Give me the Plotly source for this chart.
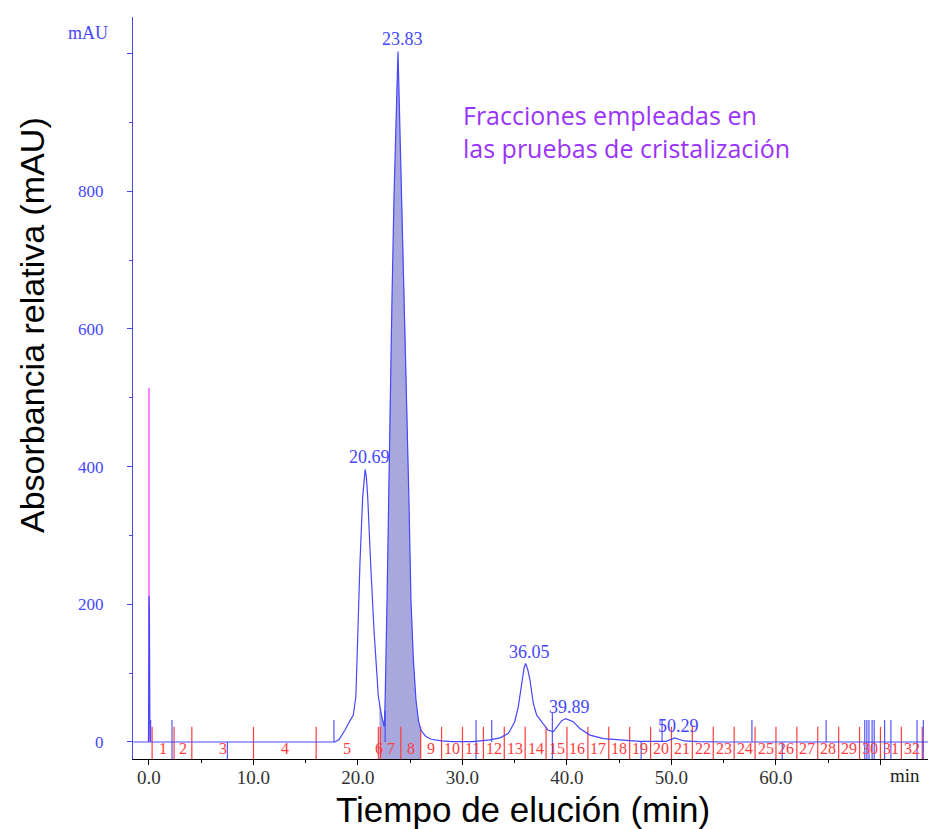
import plotly.graph_objects as go

# ---------------- data ----------------
# chromatogram trace (min, mAU)
TIME = [-1.5, -0.05, -0.01, 0.0, 0.04, 0.08, 0.12, 0.3, 17.6, 17.8, 18.2, 18.75, 19.2, 19.55,
        19.8, 19.97, 20.19, 20.45, 20.6, 20.69, 20.8, 20.93, 21.21, 21.53, 21.95, 22.05,
        22.27, 22.52, 22.6, 22.78, 22.92, 23.06, 23.25, 23.44, 23.54, 23.68, 23.83, 23.95,
        24.09, 24.21, 24.45, 24.69, 24.88, 25.07, 25.3, 25.55, 25.8, 26.03, 26.5, 27.0, 28.0,
        29.0, 30.0, 31.0, 32.6, 33.6, 34.4, 35.0, 35.34, 35.66, 35.9, 36.05, 36.25, 36.46,
        36.78, 37.1, 37.73, 38.2, 38.7, 39.17, 39.5, 39.89, 40.3, 40.6, 41.2, 42.2, 43.5,
        45.1, 47.0, 49.5, 49.9, 50.29, 50.7, 51.2, 52.5, 55.0, 74.6]
ABS = [0, 0, 120, 212, 190, 40, 0, 0, 0, 0, 4, 17, 30, 39,
       66, 163, 260, 356, 388, 396, 385, 356, 260, 163, 66, 55,
       37, 22, 61, 206, 350, 497, 640, 787, 845, 940, 1003, 930,
       845, 787, 640, 497, 350, 206, 120, 61, 30, 17, 8, 4, 1.5,
       0.5, 0, 0.5, 3, 6, 12.6, 29.5, 51, 85, 108, 114, 105, 90,
       56, 39, 27, 17, 15, 25, 31, 34, 32, 29.5, 20, 10, 5,
       3, 1, 1, 4, 6, 4, 1.5, 0.5, 0, 0]

# labelled peaks
PEAK_TIMES = [20.69, 23.83, 36.05, 39.89, 50.29]
PEAK_HEIGHTS = [396, 1003, 114, 34, 6]
PEAK_LABELS = ["20.69", "23.83", "36.05", "39.89", "50.29"]

# injection marker
INJECTION_TIME = 0.0
INJECTION_HEIGHT = 514

# fraction collector boundaries (min) and fraction numbers
FRACTION_EDGES = [0.3, 2.4, 4.1, 10.0, 16.0, 21.95, 22.15, 24.1, 26.0, 28.0, 30.0, 32.0, 34.0,
                  36.0, 38.0, 40.0, 42.0, 44.0, 46.0, 48.0, 50.0, 52.0, 54.0, 56.0, 58.0,
                  60.0, 62.0, 64.0, 66.0, 68.0, 70.0, 72.0, 74.0]
FRACTION_NUMBERS = [str(i) for i in range(1, 33)]

# integration event marks: time, top, bottom (mAU)
EVENT_TIMES = [0.16, 2.2, 7.5, 17.7, 22.6, 31.3, 32.8, 38.6, 47.1, 49.1, 57.7, 60.6, 64.8,
               68.5, 68.7, 68.9, 69.2, 69.4, 70.4, 71.0, 73.5, 74.1]
EVENT_TOPS = [32, 32, 0, 32, 45, 32, 32, 42, 0, 32, 32, 0, 32,
              32, 32, 32, 32, 32, 32, 32, 32, 32]
EVENT_BOTTOMS = [0, -25, -25, 0, 0, -25, 0, -25, -25, 0, 0, -25, 0,
                 -25, -25, -25, -25, -25, -25, -25, -25, -25]

# shaded fractions used for crystallisation
FILL_START = 22.05
FILL_END = 26.03

X_TICKS = [0, 10, 20, 30, 40, 50, 60, 70]
X_TICK_TEXT = ["0.0", "10.0", "20.0", "30.0", "40.0", "50.0", "60.0", ""]
Y_TICKS = [0, 200, 400, 600, 800, 1000]
Y_TICK_TEXT = ["0", "200", "400", "600", "800", ""]

# ---------------- styling ----------------
BLUE = "#4646ff"
RED = "#ff3b3b"
SERIF = "Liberation Serif, Times New Roman, serif"
SANS = "Liberation Sans, Arial, sans-serif"
Y_BOTTOM = -24.7
Y_TOP = 1053

fig = go.Figure()

# shaded area
fx = [FILL_START]
fy = [Y_BOTTOM]
for t, v in zip(TIME, ABS):
    if FILL_START <= t <= FILL_END:
        fx.append(t)
        fy.append(v)
fx.append(FILL_END)
fy.append(Y_BOTTOM)
fig.add_trace(go.Scatter(x=fx, y=fy, fill="toself", mode="none",
                         fillcolor="#a9a8dd", hoverinfo="skip"))

# fraction boundaries
rx, ry = [], []
for e in FRACTION_EDGES:
    rx += [e, e, None]
    ry += [Y_BOTTOM, 22, None]
fig.add_trace(go.Scatter(x=rx, y=ry, mode="lines", line=dict(color=RED, width=1.2),
                         hoverinfo="skip"))

# event marks
bx, by = [], []
for t, top, bot in zip(EVENT_TIMES, EVENT_TOPS, EVENT_BOTTOMS):
    bx += [t, t, None]
    by += [bot, top, None]
fig.add_trace(go.Scatter(x=bx, y=by, mode="lines", line=dict(color=BLUE, width=1.1),
                         hoverinfo="skip"))

# injection marker
fig.add_trace(go.Scatter(x=[INJECTION_TIME, INJECTION_TIME], y=[0, INJECTION_HEIGHT],
                         mode="lines", line=dict(color="#ff40ff", width=1.3)))

# chromatogram
fig.add_trace(go.Scatter(x=TIME, y=ABS, mode="lines", line=dict(color=BLUE, width=1.2)))

annotations = []
for t, h, lab in zip(PEAK_TIMES, PEAK_HEIGHTS, PEAK_LABELS):
    annotations.append(dict(x=t, y=h, xref="x", yref="y", text=lab, showarrow=False,
                            xanchor="center", yanchor="bottom", xshift=4, yshift=0,
                            font=dict(family=SERIF, size=18, color=BLUE)))
for a, b, n in zip(FRACTION_EDGES[:-1], FRACTION_EDGES[1:], FRACTION_NUMBERS):
    annotations.append(dict(x=(a + b) / 2, y=-9, xref="x", yref="y", text=n, showarrow=False,
                            xanchor="center", yanchor="middle",
                            font=dict(family=SERIF, size=16, color=RED)))
annotations += [
    dict(x=-0.057, y=0.978, xref="paper", yref="paper", text="mAU", showarrow=False,
         xanchor="center", yanchor="middle",
         font=dict(family=SERIF, size=18, color=BLUE)),
    dict(x=0.971, y=-0.022, xref="paper", yref="paper", text="min", showarrow=False,
         xanchor="center", yanchor="middle",
         font=dict(family=SERIF, size=19, color="#222222")),
    dict(x=0.412, y=0.846, xref="paper", yref="paper", xanchor="left", yanchor="middle",
         align="left", showarrow=False,
         text="Fracciones empleadas en<br>las pruebas de cristalización",
         font=dict(family="Open Sans, Noto Sans, sans-serif", size=25, color="#9a33fb")),
    dict(x=-0.127, y=0.585, xref="paper", yref="paper", text="Absorbancia relativa (mAU)",
         xanchor="center", yanchor="middle",
         textangle=-90, showarrow=False, font=dict(family=SANS, size=34, color="black")),
    dict(x=0.491, y=-0.068, xref="paper", yref="paper", text="Tiempo de elución (min)",
         xanchor="center", yanchor="middle",
         showarrow=False, font=dict(family=SANS, size=35, color="black")),
]

fig.update_layout(
    width=928, height=829,
    margin=dict(l=133, r=0, t=17, b=70, autoexpand=False),
    paper_bgcolor="white", plot_bgcolor="white",
    showlegend=False,
    annotations=annotations,
    xaxis=dict(range=[-1.53, 74.55], showline=True, linecolor="black", linewidth=1,
               automargin=False,
               showgrid=False, zeroline=False, ticks="outside", ticklen=5,
               tickcolor="black", tickvals=X_TICKS, ticktext=X_TICK_TEXT,
               tickfont=dict(family=SERIF, size=19, color="#333333"), ticklabelstandoff=-4,
               minor=dict(tick0=0, dtick=5, ticks="outside", ticklen=3, tickcolor="black")),
    yaxis=dict(range=[Y_BOTTOM, Y_TOP], showline=True, linecolor=BLUE, linewidth=1.2,
               automargin=False,
               showgrid=False, zeroline=False, ticks="outside", ticklen=5,
               tickcolor=BLUE, tickvals=Y_TICKS, ticktext=Y_TICK_TEXT,
               tickfont=dict(family=SERIF, size=17, color=BLUE), ticklabelstandoff=20,
               minor=dict(tick0=0, dtick=100, ticks="outside", ticklen=3, tickcolor=BLUE)),
)

fig.write_html("out.html", config={"displayModeBar": False},
               post_script="document.body.style.margin='0px';")
